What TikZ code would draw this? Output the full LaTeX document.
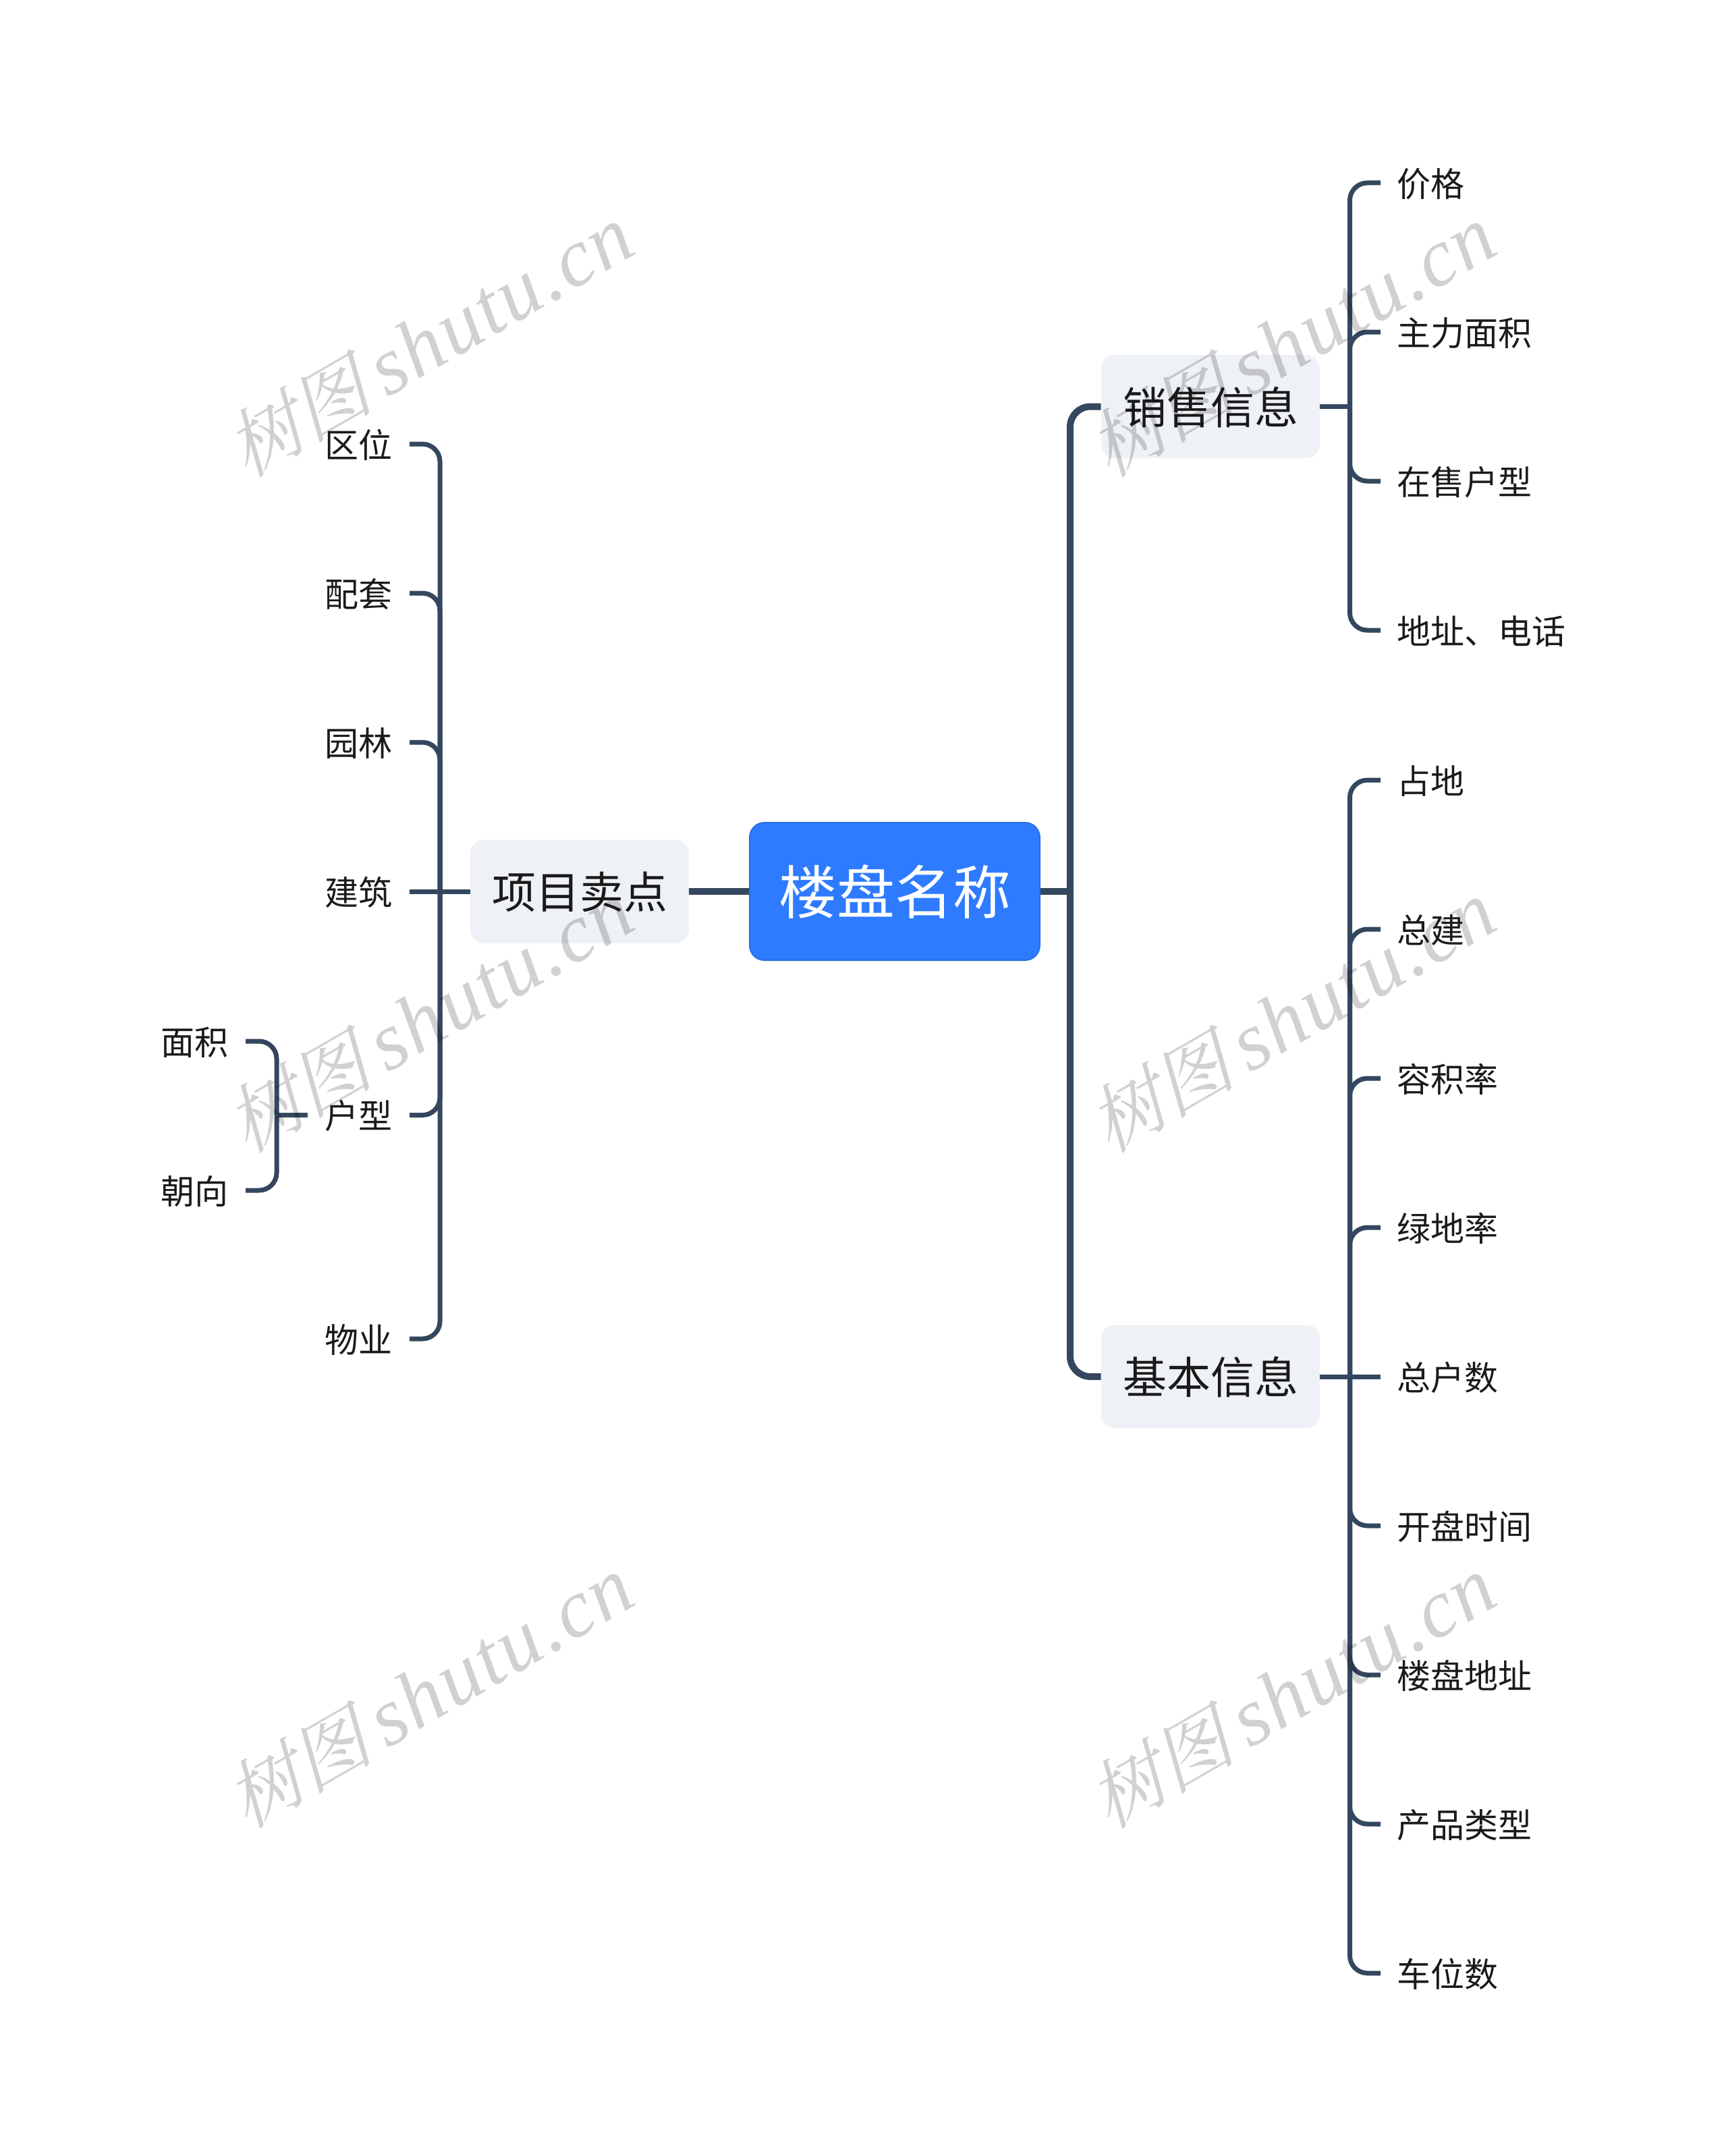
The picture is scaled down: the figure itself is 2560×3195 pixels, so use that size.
\documentclass[tikz,border=0pt]{standalone}
\usepackage{fontspec}
\setmainfont{Noto Sans CJK SC}
\newfontfamily\wmcjk[FakeSlant=0.25]{Noto Serif CJK SC}
\newfontfamily\wmlat[LetterSpace=2.5]{Liberation Serif}[ItalicFont=* Italic]
\definecolor{linec}{HTML}{34475F}
\definecolor{rootc}{HTML}{2E7BFF}
\definecolor{rootb}{HTML}{2A6FE0}
\definecolor{subc}{HTML}{EEF1F5}
\definecolor{textc}{HTML}{1A1A1A}
\tikzset{
  x=0.5pt,y=-0.5pt,
  rootbox/.style={draw=rootb,line width=1pt,fill=rootc,rounded corners=11pt,minimum width=215pt,minimum height=102pt,inner sep=0pt,text=white,font=\fontsize{43pt}{50pt}\selectfont},
  subbox/.style={fill=subc,rounded corners=10pt,minimum width=162pt,minimum height=76.5pt,inner sep=0pt,text height=25.5pt,text depth=0pt,text=textc,font=\fontsize{32.5pt}{38pt}\selectfont},
  leafr/.style={anchor=west,inner xsep=12pt,inner ysep=0pt,text height=20.5pt,text depth=0pt,text=textc,font=\fontsize{25pt}{30pt}\selectfont},
  leafl/.style={anchor=east,inner xsep=12.5pt,inner ysep=0pt,text height=20pt,text depth=0pt,text=textc,font=\fontsize{25pt}{30pt}\selectfont},
  main/.style={draw=linec,line width=5pt,rounded corners=15pt},
  branch/.style={draw=linec,line width=3.5pt,rounded corners=13pt},
  wmark/.style={rotate=30,text=black,opacity=0.18,inner sep=0pt},
}
\newcommand{\wmtext}{{\fontsize{55pt}{60pt}\selectfont\wmcjk 树图}\hspace{10pt}{\fontsize{61pt}{70pt}\selectfont\wmlat\itshape shutu.cn}}
\begin{document}
\begin{tikzpicture}
\useasboundingbox[fill=white] (0,0) rectangle (2560,3195);
% nodes
\node[rootbox] (root) at (1326,1321) {楼盘名称};
\node[subbox] (xm) at (859,1321) {项目卖点};
\node[subbox] (xs) at (1794,602.5) {销售信息};
\node[subbox] (jb) at (1794,2040) {基本信息};
% right upper leaves
\node[leafr] (a1) at (2046,271) {价格};
\node[leafr] (a2) at (2046,492) {主力面积};
\node[leafr] (a3) at (2046,713) {在售户型};
\node[leafr] (a4) at (2046,934) {地址、电话};
% right lower leaves
\node[leafr] (b1) at (2046,1156) {占地};
\node[leafr] (b2) at (2046,1377) {总建};
\node[leafr] (b3) at (2046,1598) {容积率};
\node[leafr] (b4) at (2046,1819) {绿地率};
\node[leafr] (b5) at (2046,2040) {总户数};
\node[leafr] (b6) at (2046,2261) {开盘时间};
\node[leafr] (b7) at (2046,2482) {楼盘地址};
\node[leafr] (b8) at (2046,2703) {产品类型};
\node[leafr] (b9) at (2046,2924) {车位数};
% left leaves
\node[leafl] (c1) at (607,658) {区位};
\node[leafl] (c2) at (607,879) {配套};
\node[leafl] (c3) at (607,1100) {园林};
\node[leafl] (c4) at (607,1321) {建筑};
\node[leafl] (c5) at (607,1652.5) {户型};
\node[leafl] (c6) at (607,1984) {物业};
\node[leafl] (d1) at (364,1543) {面积};
\node[leafl] (d2) at (364,1764) {朝向};
% junctions
\coordinate (jroot) at (1586,1321);
\coordinate (jxs) at (2000.5,602.5);
\coordinate (jjb) at (2000.5,2040);
\coordinate (jxm) at (652,1321);
\coordinate (jhx) at (410,1652.5);
% connectors
\draw[main] (root.east) -- (jroot);
\draw[main] (root.west) -- (xm.east);
\draw[main] (jroot) |- (xs.west);
\draw[main] (jroot) |- (jb.west);
\foreach \n in {a1,a2,a3,a4} \draw[branch] (jxs) |- (\n.west);
\draw[branch] (xs.east) -- (jxs);
\foreach \n in {b1,b2,b3,b4,b6,b7,b8,b9} \draw[branch] (jjb) |- (\n.west);
\draw[branch] (jb.east) -- (b5.west);
\foreach \n in {c1,c2,c3,c5,c6} \draw[branch] (jxm) |- (\n.east);
\draw[branch] (xm.west) -- (c4.east);
\draw[branch] (c5.west) -- (jhx);
\foreach \n in {d1,d2} \draw[branch] (jhx) |- (\n.east);
% watermarks
\node[wmark] (w1) at (636,505) {\wmtext};
\node[wmark] (w2) at (1914,505) {\wmtext};
\node[wmark] (w3) at (636,1506) {\wmtext};
\node[wmark] (w4) at (1914,1506) {\wmtext};
\node[wmark] (w5) at (636,2507) {\wmtext};
\node[wmark] (w6) at (1914,2507) {\wmtext};
\end{tikzpicture}
\end{document}
